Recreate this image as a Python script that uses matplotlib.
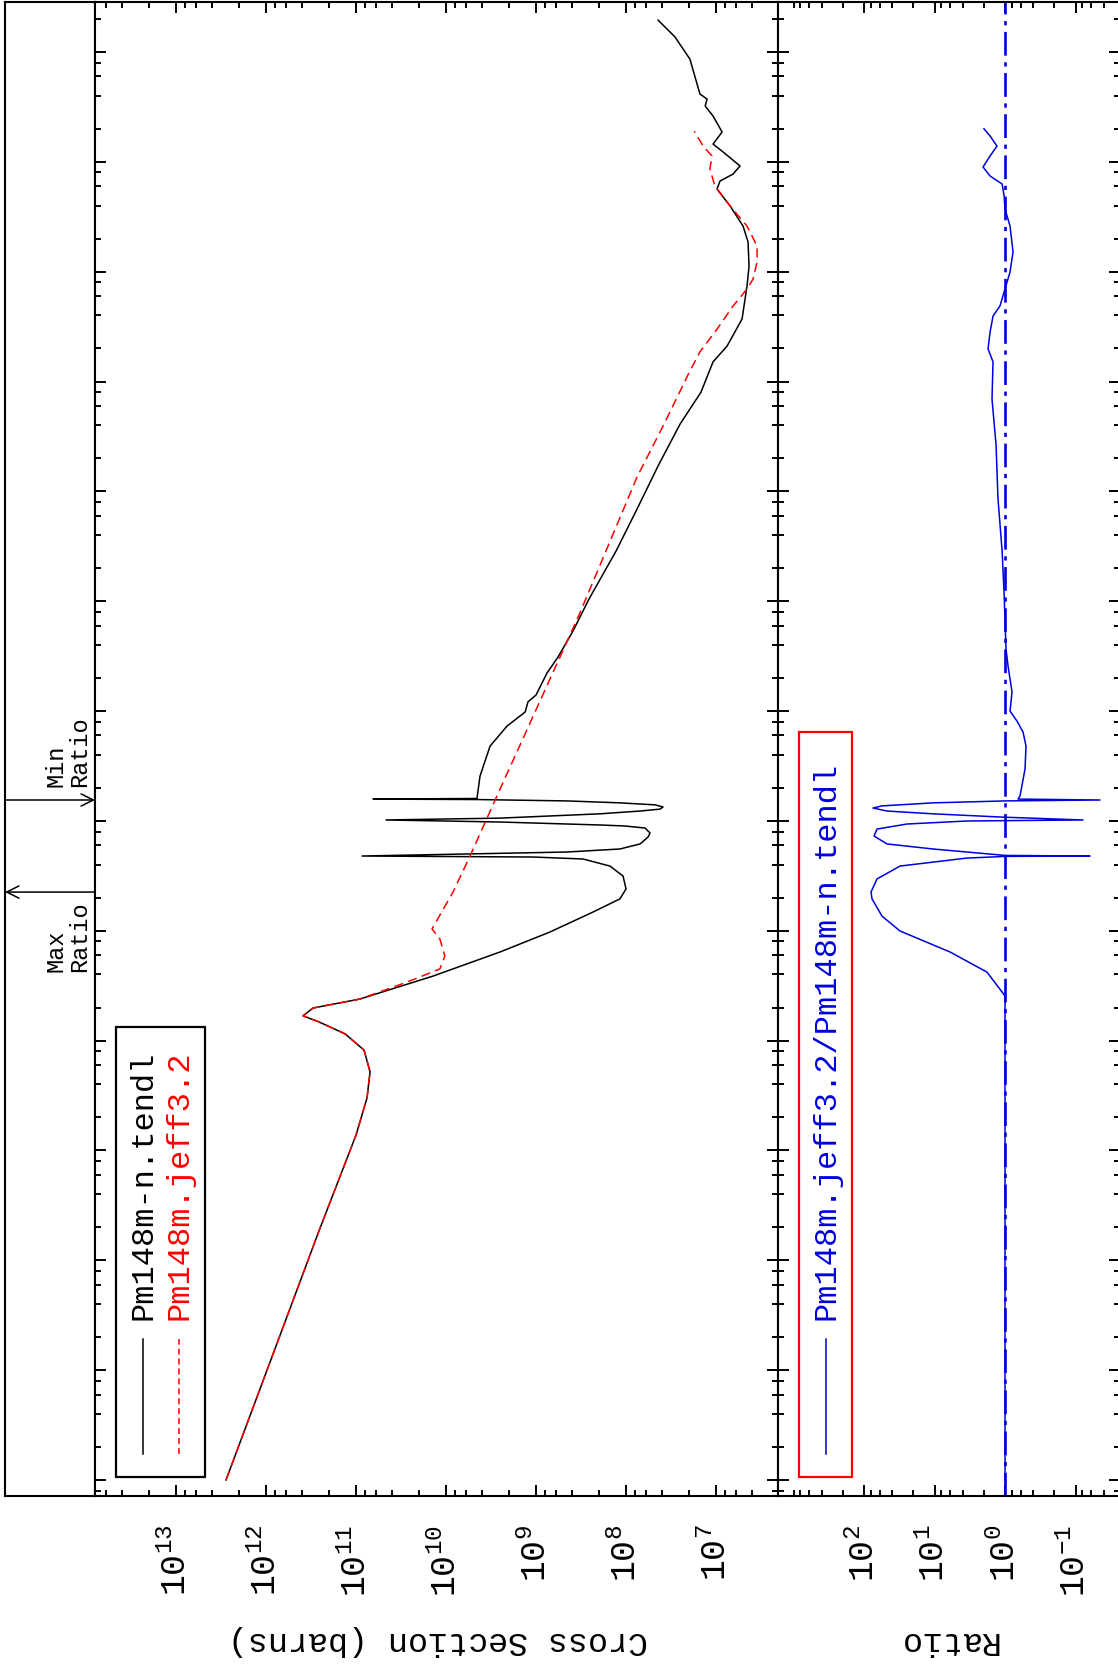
import matplotlib
matplotlib.use("Agg")
import matplotlib.pyplot as plt
from matplotlib.patches import Rectangle
from matplotlib.lines import Line2D
from matplotlib.ticker import LogLocator, FixedLocator, NullFormatter
import numpy as np

plt.rcParams["font.family"] = ["Liberation Mono", "DejaVu Sans"]
plt.rcParams["mathtext.fontset"] = "custom"
plt.rcParams["mathtext.rm"] = "Liberation Mono"
plt.rcParams["mathtext.default"] = "rm"

# ----- data (energy in eV, cross section in barns) -----
tendl_e = [1.0e-5, 1.85e-3, 1.38e-2, 3.0e-2, 5.2e-2, 8.2e-2, 0.115, 0.148, 0.168,
           0.198, 0.239, 0.387, 0.641, 0.975, 1.48, 1.95, 2.40, 3.15, 3.88, 4.50,
           4.69, 4.79, 5.0, 5.21, 5.55, 6.17, 7.13, 7.76, 8.61, 8.99, 9.18, 9.77,
           10.2, 10.6, 11.6, 12.3, 12.8, 13.4, 14.0, 14.6, 15.2, 15.65, 15.8, 16.0,
           25.6, 48, 73, 98, 121, 140, 222, 310, 536, 1047, 2864, 6900, 1.70e4,
           4.10e4, 8.0e4, 1.51e5, 2.10e5, 3.71e5, 7.4e5, 1.12e6, 1.86e6, 2.6e6,
           3.96e6, 5.65e6, 6.68e6, 7.74e6, 9.16e6, 1.23e7, 1.45e7, 1.87e7, 2.61e7,
           3.22e7, 3.73e7, 4.14e7, 8.6e7, 1.37e8, 1.95e8]
tendl_xs = [2.78e12, 2.58e11, 1.0e11, 7.55e10, 6.98e10, 8.15e10, 1.32e11, 2.58e11,
            3.88e11, 3.0e11, 9.04e10, 1.39e10, 2.51e9, 6.98e8, 2.33e8, 1.17e8,
            1.0e8, 1.08e8, 1.51e8, 3.0e8, 1.08e9, 8.57e10, 5.85e9, 4.53e8, 1.17e8,
            6.98e7, 5.70e7, 5.41e7, 6.15e7, 1.03e8, 1.95e8, 2.51e9, 4.64e10,
            2.51e9, 1.95e8, 6.98e7, 4.19e7, 3.88e7, 4.77e7, 1.17e8, 4.53e8,
            4.53e9, 6.47e10, 4.53e9, 4.19e9, 3.24e9, 2.10e9, 1.32e9, 1.23e9,
            1.0e9, 7.55e8, 5.70e8, 3.88e8, 2.58e8, 1.29e8, 7.55e7, 4.41e7, 2.51e7,
            1.47e7, 1.08e7, 7.55e6, 5.14e6, 4.53e6, 4.30e6, 4.41e6, 5.01e6, 6.98e6,
            9.75e6, 9.04e6, 6.47e6, 5.41e6, 8.36e6, 1.08e7, 8.57e6, 1.08e7, 1.32e7,
            1.26e7, 1.51e7, 1.95e7, 2.86e7, 4.41e7]

jeff_e = [1.0e-5, 1.85e-3, 1.38e-2, 3.0e-2, 5.2e-2, 8.2e-2, 0.115, 0.148, 0.168,
          0.198, 0.239, 0.341, 0.449, 0.589, 0.841, 1.04, 2.25, 4.79, 19.5, 748,
          1.35e4, 4.10e4, 1.25e5, 1.86e5, 3.0e5, 4.87e5, 6.95e5, 8.57e5, 1.22e6,
          1.71e6, 2.6e6, 3.96e6, 6.03e6, 8.6e6, 1.13e7, 1.39e7, 1.9e7]
jeff_xs = [2.78e12, 2.58e11, 1.0e11, 7.55e10, 6.98e10, 8.15e10, 1.32e11, 2.58e11,
           3.88e11, 3.0e11, 9.04e10, 2.71e10, 1.17e10, 1.03e10, 1.17e10, 1.43e10,
           8.36e9, 5.41e9, 2.51e9, 3.33e8, 7.55e7, 3.78e7, 1.95e7, 1.51e7, 9.75e6,
           6.47e6, 4.53e6, 3.88e6, 3.50e6, 3.50e6, 4.53e6, 6.98e6, 1.03e7, 1.17e7,
           1.11e7, 1.39e7, 1.75e7]

ratio_e = [1.0e-5, 0.255, 0.42, 0.641, 0.995, 1.36, 1.95, 2.25, 2.96, 3.88, 4.59,
           4.75, 4.79, 4.85, 5.55, 6.17, 7.28, 8.43, 9.37, 9.98, 10.2, 10.8, 11.6,
           12.3, 13.1, 13.7, 14.6, 15.2, 15.5, 15.8, 16.9, 29.7, 48, 64.4, 81,
           100, 149, 257, 367, 1163, 2864, 8690, 2.64e4, 6.9e4, 1.51e5, 1.98e5,
           2.82e5, 3.94e5, 4.87e5, 6.53e5, 9.93e5, 1.51e6, 2.6e6, 3.72e6, 4.89e6,
           6.28e6, 7.43e6, 8.97e6, 1.13e7, 1.39e7, 1.72e7, 2.0e7]
ratio_val = [1.0, 1.0, 1.80, 6.03, 30.9, 55.6, 77, 79.6, 65.4, 30.9, 3.46, 1.0,
             0.0623, 1.0, 10.5, 47.2, 72.1, 65.4, 24.5, 3.46, 0.0783, 1.0, 10.5,
             47.2, 74.5, 55.6, 10.5, 1.0, 0.0449, 0.654, 0.613, 0.520, 0.504,
             0.555, 0.676, 0.849, 0.796, 0.906, 0.968, 1.03, 1.10, 1.26, 1.34,
             1.53, 1.48, 1.74, 1.63, 1.48, 1.18, 1.03, 0.849, 0.77, 0.849, 1.0,
             1.03, 1.10, 1.63, 2.05, 1.63, 1.30, 1.63, 1.99]

labels = ["Pm148m-n.tendl", "Pm148m.jeff3.2", "Pm148m.jeff3.2/Pm148m-n.tendl"]

e_lim = (7.15e-6, 2.85e8)
xs_lim = (7.94e13, 2.05e6)
ratio_lim = (1660, 0.0234)
ratio_major = [0.1, 1, 10, 100]
ratio_minor = [k * 10.0 ** p for p in range(-2, 3) for k in (2, 4, 6, 8)] + [1000]

W, H = 1118, 1665
fig = plt.figure(figsize=(W / 100, H / 100), dpi=100)


def box(x0, x1, y0=3, y1=1497):
    return [x0 / W, 1 - y1 / H, (x1 - x0) / W, (y1 - y0) / H]


ax0 = fig.add_axes(box(5, 95))
ax1 = fig.add_axes(box(95, 778))
ax2 = fig.add_axes(box(778, 1120))

for ax in (ax0, ax1, ax2):
    ax.set_yscale("log")
    ax.set_ylim(*e_lim)
    for s in ax.spines.values():
        s.set_linewidth(1.5)

ax0.set_xlim(0, 1)
ax0.set_xticks([])
ax0.set_yticks([])
ax0.minorticks_off()

ax1.set_xscale("log")
ax1.set_xlim(*xs_lim)
ax1.xaxis.set_major_locator(LogLocator(base=10, numticks=30))
ax1.xaxis.set_minor_locator(LogLocator(base=10, subs=(2, 4, 6, 8), numticks=30))

ax2.set_xscale("log")
ax2.set_xlim(*ratio_lim)
ax2.xaxis.set_major_locator(FixedLocator(ratio_major))
ax2.xaxis.set_minor_locator(FixedLocator(ratio_minor))

for ax in (ax1, ax2):
    ax.xaxis.set_minor_formatter(NullFormatter())
    ax.yaxis.set_major_locator(LogLocator(base=10, numticks=30))
    ax.yaxis.set_minor_locator(LogLocator(base=10, subs=(2, 4, 6, 8), numticks=30))
    ax.yaxis.set_major_formatter(NullFormatter())
    ax.yaxis.set_minor_formatter(NullFormatter())
    ax.tick_params(which="both", direction="in", top=True, bottom=True,
                   left=True, right=True, width=1.4)
    ax.tick_params(which="major", length=8)
    ax.tick_params(which="minor", length=4.5)
    ax.tick_params(axis="x", which="major", labelsize=25, labelrotation=90, pad=20)

# cross sections
ax1.plot(tendl_xs, tendl_e, color="black", lw=1.1)
ax1.plot(jeff_xs, jeff_e, color="red", lw=1.1, dashes=(6, 3.5))

# ratio
ax2.axvline(1.0, color="#0000dd", lw=1.9, dashes=(9, 2.5, 1.6, 2.5))
ax2.plot(ratio_val, ratio_e, color="#0000dd", lw=1.1)

# legends drawn rotated, like the page
ax1.add_patch(Rectangle((0.0307, 0.0127), 0.1304, 0.3012, transform=ax1.transAxes,
                        fill=False, ec="black", lw=1.6))
ax1.add_line(Line2D([0.0703, 0.0703], [0.028, 0.105], transform=ax1.transAxes,
                    color="black", lw=1.1))
ax1.add_line(Line2D([0.123, 0.123], [0.028, 0.105], transform=ax1.transAxes,
                    color="red", lw=1.1, dashes=(4, 2.5)))
ax1.text(0.0703, 0.1185, labels[0], transform=ax1.transAxes, rotation=90,
         ha="center", va="bottom", fontsize=23, color="black")
ax1.text(0.123, 0.1185, labels[1], transform=ax1.transAxes, rotation=90,
         ha="center", va="bottom", fontsize=23, color="red")

ax2.add_patch(Rectangle((0.0614, 0.0127), 0.155, 0.4987, transform=ax2.transAxes,
                        fill=False, ec="red", lw=1.6))
ax2.add_line(Line2D([0.1404, 0.1404], [0.028, 0.105], transform=ax2.transAxes,
                    color="#0000dd", lw=1.1))
ax2.text(0.1404, 0.1185, labels[2], transform=ax2.transAxes, rotation=90,
         ha="center", va="bottom", fontsize=23, color="#0000dd")

# max / min ratio markers
e_max = ratio_e[int(np.argmax(ratio_val))]
e_min = ratio_e[int(np.argmin(ratio_val))]
tr = ax0.get_yaxis_transform()
ax0.annotate("", xy=(0.0, e_max), xytext=(1.0, e_max), xycoords=tr, textcoords=tr,
             arrowprops=dict(arrowstyle="->", lw=1.1, color="black",
                             mutation_scale=22, shrinkA=0, shrinkB=0))
ax0.annotate("", xy=(1.0, e_min), xytext=(0.0, e_min), xycoords=tr, textcoords=tr,
             arrowprops=dict(arrowstyle="->", lw=1.1, color="black",
                             mutation_scale=22, shrinkA=0, shrinkB=0))
ax0.annotate("Max\nRatio", xy=(0.70, e_max), xycoords=tr, xytext=(0, -57),
             textcoords="offset points", rotation=90, ha="center", va="bottom",
             multialignment="left", fontsize=17, linespacing=1.05)
ax0.annotate("Min\nRatio", xy=(0.70, e_min), xycoords=tr, xytext=(0, 10),
             textcoords="offset points", rotation=90, ha="center", va="bottom",
             multialignment="left", fontsize=17, linespacing=1.05)

fig.text(438 / W, 1 - 1641 / H, "Cross Section (barns)", rotation=180,
         ha="center", va="center", fontsize=24)
fig.text(947 / W, 1 - 1641 / H, "Ratio", rotation=180,
         ha="center", va="center", fontsize=24)

fig.savefig("out.png", dpi=100)
